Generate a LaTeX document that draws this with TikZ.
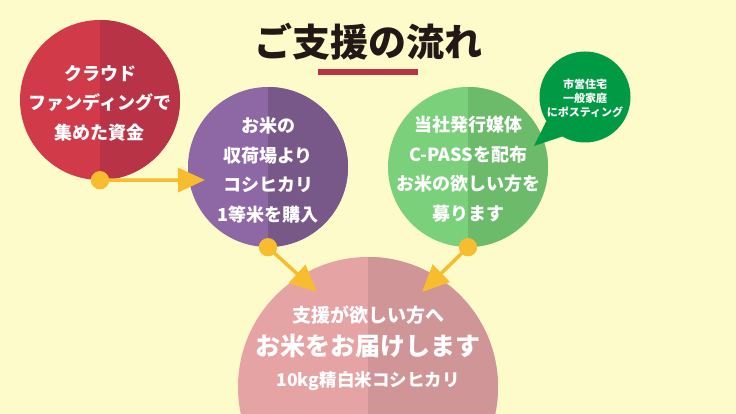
\documentclass[tikz,border=0pt]{standalone}
\usepackage{fontspec}
\setmainfont{Noto Sans CJK JP}
\usetikzlibrary{arrows.meta}

\definecolor{bgcream}{HTML}{FEFBCB}
\definecolor{redlight}{HTML}{D13A48}
\definecolor{reddark}{HTML}{B93347}
\definecolor{purplelight}{HTML}{8E67A5}
\definecolor{purpledark}{HTML}{775888}
\definecolor{greenlight}{HTML}{7BD17B}
\definecolor{greendark}{HTML}{6BBB6B}
\definecolor{bubblegreen}{HTML}{009A44}
\definecolor{pinklight}{HTML}{E6A3A4}
\definecolor{pinkdark}{HTML}{D09597}
\definecolor{dotyellow}{HTML}{F8BD2E}
\definecolor{titleblack}{HTML}{231815}

\begin{document}
\begin{tikzpicture}[
                x=1pt, y=-1pt,
                halfcircle/.style n args={3}{circle, inner sep=0pt, minimum size=#1,
                    fill=#2, path picture={\fill[#3] (path picture bounding box.north)
                    rectangle (path picture bounding box.south east);}},
                dot/.style={circle, inner sep=0pt, minimum size=18pt, fill=dotyellow},
                flow/.style={draw=dotyellow, line width=3.5pt,
                    -{Triangle[length=27pt, width=24pt]}},
                label/.style={text=white, align=center, font=\bfseries\fontsize{18}{29.5}\selectfont}
            ]

                \fill[bgcream] (0,0) rectangle (736,414);
                \useasboundingbox (0,0) rectangle (736,414);
                \clip (0,0) rectangle (736,414);

                % title
                \node[text=titleblack, font=\bfseries\fontsize{38}{38}\selectfont] (title) at (368,42) {ご支援の流れ};
                \fill[reddark] (318,69) rectangle (418,75);

                % circles
                \node[halfcircle={160pt}{redlight}{reddark}] (fund) at (100,100) {};
                \node[halfcircle={160pt}{purplelight}{purpledark}] (buy) at (268,167) {};
                \node[halfcircle={160pt}{greenlight}{greendark}] (pass) at (468,167) {};
                \node[halfcircle={260pt}{pinklight}{pinkdark}] (deliver) at (368,387) {};

                \node[label] (fundtext) at (100,103) {クラウド\\ファンディングで\\集めた資金};
                \node[label] (buytext) at (268,170) {お米の\\収荷場より\\コシヒカリ\\1等米を購入};
                \node[label] (passtext) at (468,169) {当社発行媒体\\C-PASSを配布\\お米の欲しい方を\\募ります};

                \node[text=white, font=\bfseries\fontsize{19}{19}\selectfont] (delivertop) at (368,315) {支援が欲しい方へ};
                \node[text=white, font=\bfseries\fontsize{25}{25}\selectfont] (delivermid) at (368,346) {お米をお届けします};
                \node[text=white, font=\bfseries\fontsize{17.5}{17.5}\selectfont] (deliverbot) at (368,381) {10kg精白米コシヒカリ};

                % speech bubble
                \node[circle, inner sep=0pt, minimum size=91pt, fill=bubblegreen] (bubble) at (585,97) {};
                \coordinate (bubbletip) at (534,146);
                \fill[bubblegreen] (bubble.212) -- (bubbletip) -- (bubble.240) -- cycle;
                \node[text=white, align=center, font=\bfseries\fontsize{11}{14}\selectfont] (bubbletext) at (585,98) {市営住宅\\一般家庭\\にポスティング};

                % dots and arrows
                \node[dot] (funddot) at (fund.south) {};
                \node[dot] (buydot) at (buy.south) {};
                \node[dot] (passdot) at (pass.south) {};

                \coordinate (buytip) at (205,180);
                \coordinate (delivertipl) at (317,292);
                \coordinate (delivertipr) at (422,292);

                \draw[flow] (funddot.center) -- (buytip);
                \draw[flow] (buydot.center) -- (delivertipl);
                \draw[flow] (passdot.center) -- (delivertipr);

                \node[dot] at (funddot) {};
                \node[dot] at (buydot) {};
                \node[dot] at (passdot) {};

            \end{tikzpicture}
\end{document}
